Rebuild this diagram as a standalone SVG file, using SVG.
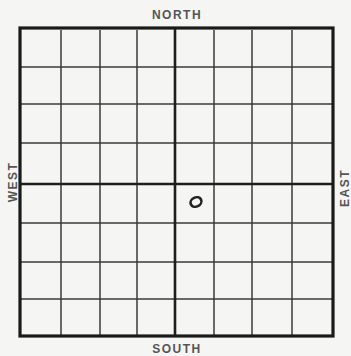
<svg xmlns="http://www.w3.org/2000/svg" width="351" height="356" viewBox="0 0 351 356">
<style>
.lbl{font-family:"Liberation Sans",Arial,sans-serif;font-size:12px;font-weight:bold;fill:#555;letter-spacing:1.5px}
.g{stroke:#3a3a3a;stroke-width:1.5}
.c{stroke:#1e1e1e;stroke-width:2.6}
.b{stroke:#1a1a1a;stroke-width:3.2;fill:none}
</style>
<rect width="351" height="356" fill="#f5f5f3"/>
<g id="connectors">
<g class="g">
<line x1="61" y1="30" x2="61" y2="335"/>
<line x1="100" y1="30" x2="100" y2="335"/>
<line x1="137" y1="30" x2="137" y2="335"/>
<line x1="214" y1="30" x2="214" y2="335"/>
<line x1="252" y1="30" x2="252" y2="335"/>
<line x1="292" y1="30" x2="292" y2="335"/>
<line x1="21" y1="67" x2="332" y2="67"/>
<line x1="21" y1="104" x2="332" y2="104"/>
<line x1="21" y1="143" x2="332" y2="143"/>
<line x1="21" y1="223" x2="332" y2="223"/>
<line x1="21" y1="262" x2="332" y2="262"/>
<line x1="21" y1="299" x2="332" y2="299"/>
</g>
<g class="c">
<line x1="175" y1="29" x2="175" y2="336"/>
<line x1="21" y1="184" x2="332" y2="184"/>
</g>
<rect class="b" x="20" y="28" width="313" height="308"/>
</g>
<g id="marker">
<ellipse cx="196" cy="202" rx="5.6" ry="4.6" transform="rotate(-25 196 202)" fill="none" stroke="#222" stroke-width="2.6"/>
</g>
<g id="labels">
<text class="lbl" x="177" y="353" text-anchor="middle">SOUTH</text>
<text class="lbl" x="177" y="19" text-anchor="middle">NORTH</text>
<text class="lbl" transform="translate(17 182) rotate(-90)" text-anchor="middle">WEST</text>
<text class="lbl" transform="translate(349 188) rotate(-90)" text-anchor="middle">EAST</text>
</g>
</svg>
